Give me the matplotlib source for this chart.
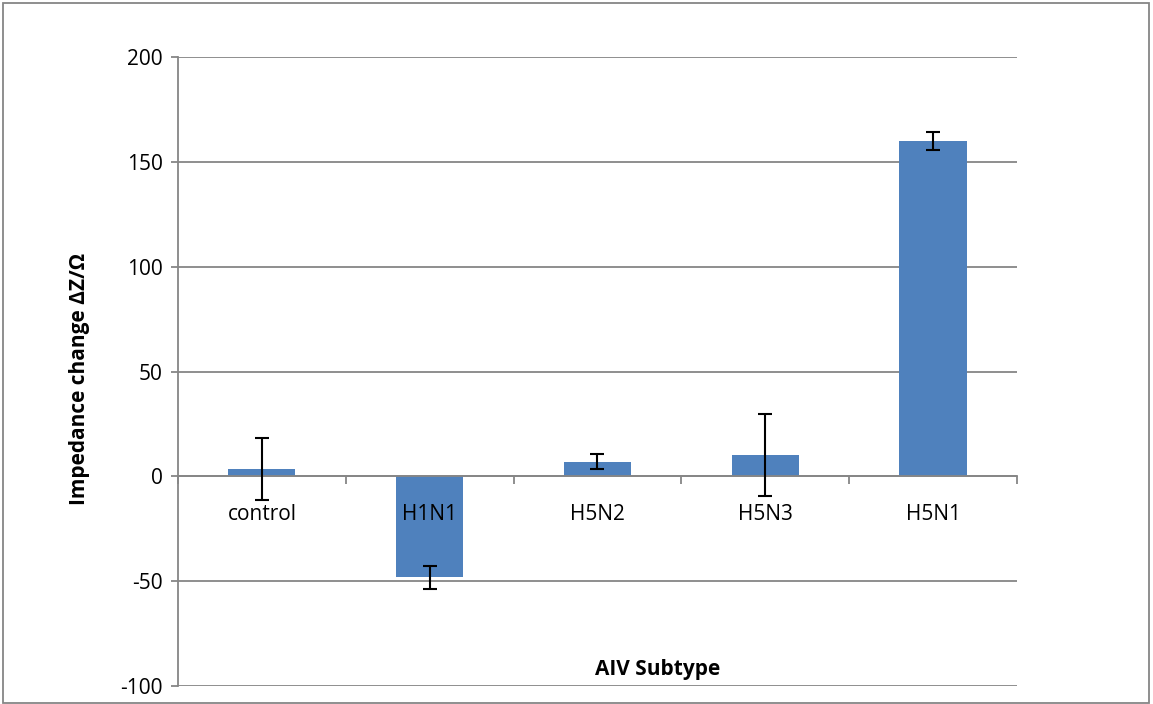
import matplotlib.pyplot as plt
from matplotlib.patches import Rectangle
import numpy as np

plt.rcParams['font.family'] = ['Open Sans', 'DejaVu Sans']
plt.rcParams['axes.unicode_minus'] = False

subtypes = ['control', 'H1N1', 'H5N2', 'H5N3', 'H5N1']
impedance = [3.6, -48.2, 7.0, 10.2, 159.8]
errors = [14.7, 5.5, 3.5, 19.6, 4.3]
yticks = [-100, -50, 0, 50, 100, 150, 200]

grid_col = '#868686'

fig = plt.figure(figsize=(11.53, 7.04), dpi=100)
ax = fig.add_axes([0.1544, 0.0256, 0.7276, 0.8934])

x = np.arange(len(subtypes))
ax.bar(x, impedance, width=0.4, color='#4F81BD', zorder=3)
ax.errorbar(x, impedance, yerr=errors, fmt='none', ecolor='black',
            elinewidth=1.5, capsize=5, capthick=1.5, zorder=4)

ax.set_xlim(-0.5, len(subtypes) - 0.5)
ax.set_ylim(-100, 200)
ax.set_yticks(yticks)
ax.yaxis.grid(True, color=grid_col, linewidth=1.3, zorder=0)

# x axis sits on zero, labels drawn over the bars
ax.spines['bottom'].set_position(('data', 0))
ax.spines['bottom'].set_zorder(3.5)
for s in ['top', 'right']:
    ax.spines[s].set_visible(False)
ax.spines['left'].set_color(grid_col)
ax.spines['bottom'].set_color(grid_col)
ax.spines['left'].set_linewidth(1.3)
ax.spines['bottom'].set_linewidth(1.3)
ax.xaxis.set_zorder(5)

ax.set_xticks(x)
ax.set_xticklabels(subtypes)
ax.set_xticks(np.arange(len(subtypes) + 1) - 0.5, minor=True)
ax.tick_params(axis='x', which='major', length=0, pad=20, labelsize=15)
ax.tick_params(axis='x', which='minor', length=6, width=1.3, color=grid_col, direction='out')
ax.tick_params(axis='y', length=5, width=1.3, color=grid_col, labelsize=15, pad=6)

fig.text(0.069, 0.462, 'Impedance change ΔZ/Ω', rotation=90, ha='center', va='center',
         fontsize=15, fontweight='bold')
ax.text(0.572, 0.026, 'AIV Subtype', transform=ax.transAxes, ha='center', va='center',
        fontsize=15, fontweight='bold')

# outer chart border
fig.patches.append(Rectangle((3 / 1153, 1 / 704), 1146 / 1153, 700 / 704,
                             transform=fig.transFigure, fill=False,
                             edgecolor=grid_col, linewidth=1.3))

fig.savefig('out.png', dpi=100)
